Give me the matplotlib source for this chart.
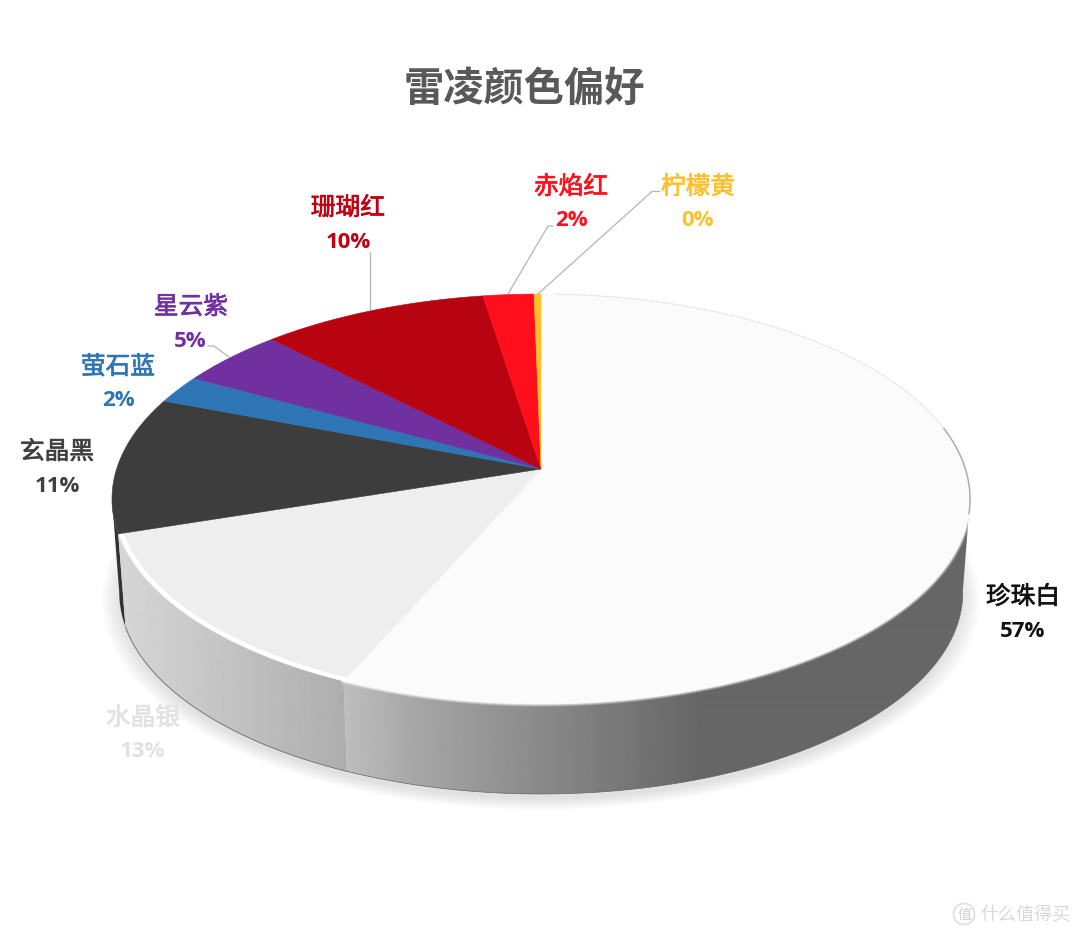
"""3D perspective pie, drawn in pixel coordinates on a full-figure axes."""
import numpy as np
import matplotlib
matplotlib.use("Agg")
import matplotlib.pyplot as plt
import matplotlib.patheffects as pe
from matplotlib.patches import Polygon, Circle

CJK = ["Noto Sans CJK SC", "DejaVu Sans"]

# clockwise from 12 o'clock
names = ["珍珠白", "水晶银", "玄晶黑", "萤石蓝", "星云紫", "珊瑚红", "赤焰红", "柠檬黄"]
shares = [56.6, 13.4, 10.8, 2.25, 4.6, 9.85, 2.2, 0.3]
face_colors = ["#fbfbfb", "#eeeeee", "#3d3d3d", "#2e75b6", "#7030a0", "#b80410", "#ff0f1b", "#ffc02e"]
label_colors = ["#111111", "#e2e2e2", "#404040", "#2e75b6", "#7030a0", "#c00010", "#ff0f1b", "#ffc02e"]
name_pos = [(1023, 598), (143, 719), (57, 453), (118, 368), (191, 308), (348, 209), (571, 188), (698, 188)]
pct_pos = [(1023, 632), (142, 752), (57, 487), (118, 401), (190, 342), (348, 242), (571, 221), (698, 221)]

# perspective of the unit disc onto the page
CX, CY = 541, 470
A, B, K = 424.4, 200.6, 0.1463
DROP, SHRINK = 94, 0.983
RIGHT_EXTREME, LEFT_EXTREME = 98.4, 261.6   # where the disc is widest on the page


def project(deg, r=1.0, bottom=False):
    t = np.radians(deg)
    u, v = r * np.sin(t), r * np.cos(t)
    w = 1 + K * v
    x, y = A * u / w, -B * v / w
    if bottom:
        return CX + SHRINK * x, CY + DROP + SHRINK * y
    return CX + x, CY + y


def arc(a0, a1, bottom=False, r=1.0):
    return project(np.linspace(a0, a1, max(int(abs(a1 - a0) * 3), 4)), r, bottom)


def wall(ax, a0, a1, xs, greys):
    tx, ty = arc(a0, a1)
    bx, by = arc(a0, a1, bottom=True)
    pts = np.r_[np.c_[tx, ty], np.c_[bx, by][::-1]]
    poly = Polygon(pts, closed=True, fc="none", ec="none", transform=ax.transData)
    ax.add_patch(poly)
    grid = np.interp(np.arange(1080), xs, greys).reshape(1, -1)
    im = ax.imshow(grid, extent=(0, 1080, 937, 0), cmap="gray", vmin=0, vmax=255,
                   aspect="auto", zorder=2, interpolation="bilinear")
    im.set_clip_path(poly)


fig = plt.figure(figsize=(10.8, 9.37), dpi=100)
ax = fig.add_axes([0, 0, 1, 1])

edges = np.r_[0, np.cumsum(shares)] * 3.6
edges[-1] = 360

# soft drop shadow under the base
for r in np.linspace(1.04, 1.0, 10):
    sx, sy = arc(0, 360, bottom=True, r=r)
    ax.fill(sx, sy + 5, color="#444444", alpha=0.014, lw=0, zorder=1)

# side walls, far to near
wall(ax, edges[2], LEFT_EXTREME, [100, 140], [50, 50])
wall(ax, edges[1], edges[2], [118, 200, 345], [214, 200, 174])
wall(ax, RIGHT_EXTREME, edges[1], [344, 420, 700, 1000], [190, 165, 102, 102])
bx, by = arc(edges[1], edges[2], bottom=True)
ax.plot(bx, by, color="#777777", lw=0.7, zorder=3)
bx, by = arc(RIGHT_EXTREME, edges[1], bottom=True)
ax.plot(bx, by, color="#666666", lw=0.5, zorder=3)

# blurred lip where the white face meets the wall
ex, ey = arc(RIGHT_EXTREME - 4, edges[1])
for lw, alpha in [(5.5, 0.18), (4, 0.28), (2.5, 0.4)]:
    ax.plot(ex, ey, color="white", lw=lw * 0.72, alpha=alpha, zorder=3.5)

# top faces
for a0, a1, col in zip(edges[:-1], edges[1:], face_colors):
    ex, ey = arc(a0, a1)
    ax.add_patch(Polygon(np.c_[np.r_[CX, ex], np.r_[CY, ey]], closed=True, fc=col, ec=col, lw=0.4, zorder=4))

# bevel: crisp white on the silver slice, grey hairlines on the far rim
ex, ey = arc(edges[1] - 1, edges[2] - 0.6, r=0.993)
ax.plot(ex, ey, color="white", lw=3.0, zorder=5, solid_capstyle="round")
ex, ey = arc(2, 78)
ax.plot(ex, ey, color="#e2e2e2", lw=0.7, ls=(0, (6, 1)), zorder=5)
ex, ey = arc(78, RIGHT_EXTREME + 4)
ax.plot(ex, ey, color="#adadad", lw=1.1, zorder=5)

# leader lines
for xs, ys in [([508, 548, 553], [295, 227, 227]),
               ([538, 652, 660], [295, 192.5, 192.5]),
               ([370, 370], [310, 253]),
               ([208, 214, 229], [347, 347, 358])]:
    ax.plot(xs, ys, color="#b5b5b5", lw=0.9, zorder=3)

# labels
for name, share, col, npos, ppos in zip(names, shares, label_colors, name_pos, pct_pos):
    ax.text(*npos, name, color=col, fontsize=17.8, family=CJK, ha="center", va="center", zorder=6,
            path_effects=[pe.withStroke(linewidth=0.5, foreground=col)])
    ax.text(*ppos, f"{share:.0f}%", color=col, fontsize=16, family=["Open Sans", "DejaVu Sans"],
            weight="bold", ha="center", va="center", zorder=6)

ax.text(524, 89, "雷凌颜色偏好", color="#595959", fontsize=29, family=CJK, weight="bold",
        ha="center", va="center")

# site watermark
ax.add_patch(Circle((964, 915), 10.5, fc="none", ec="#dedede", lw=1.2))
ax.text(964, 915, "值", color="#cfcfcf", fontsize=10, family=CJK, ha="center", va="center")
ax.text(1025, 915, "什么值得买", color="#d8d8d8", fontsize=13, family=CJK, ha="center", va="center")

ax.set_xlim(0, 1080)
ax.set_ylim(937, 0)
ax.axis("off")
fig.savefig("out.png", dpi=100, facecolor="white")
